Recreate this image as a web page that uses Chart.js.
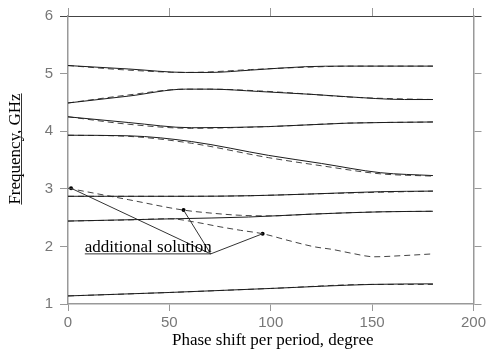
<!DOCTYPE html>
<html>
<head>
<meta charset="utf-8">
<script src="https://cdn.jsdelivr.net/npm/chart.js@4.4.1/dist/chart.umd.min.js"></script>
<style>
html, body { margin: 0; padding: 0; background: #fff; }
#wrap { width: 489px; height: 354px; position: relative; }
</style>
</head>
<body>
<div id="wrap"><canvas id="chart"></canvas></div>
<script>
// ================= DATA =================
const xTitle = "Phase shift per period, degree";
const yTitle = "Frequency, GHz";
const noteText = "additional solution";

// band 1 (~5.1 GHz)
const b1SolidDeg = [0, 30, 58, 70, 90, 117, 137, 180];
const b1SolidF   = [5.14, 5.08, 5.02, 5.02, 5.06, 5.12, 5.13, 5.13];
const b1DashDeg  = [0, 30, 58, 70, 90, 117, 140, 180];
const b1DashF    = [5.14, 5.06, 5.02, 5.03, 5.07, 5.11, 5.13, 5.13];

// band 2 (~4.5 GHz)
const b2SolidDeg = [0, 30, 58, 70, 94, 120, 137, 166, 180];
const b2SolidF   = [4.49, 4.61, 4.73, 4.73, 4.69, 4.64, 4.60, 4.55, 4.55];
const b2DashDeg  = [0, 30, 58, 70, 94, 120, 140, 166, 180];
const b2DashF    = [4.49, 4.63, 4.73, 4.73, 4.70, 4.64, 4.59, 4.56, 4.55];

// band 3 (~4.2 GHz)
const b3Deg    = [0, 30, 61, 99, 138, 180];
const b3SolidF = [4.25, 4.15, 4.06, 4.08, 4.14, 4.16];
const b3DashF  = [4.25, 4.12, 4.05, 4.08, 4.14, 4.16];

// band 4 (~3.9 GHz)
const b4Deg    = [0, 30, 61, 99, 125, 154, 180];
const b4SolidF = [3.93, 3.92, 3.82, 3.58, 3.44, 3.28, 3.23];
const b4DashF  = [3.93, 3.91, 3.79, 3.54, 3.40, 3.26, 3.22];

// band 5 (~2.9 GHz)
const b5Deg    = [0, 60, 90, 120, 154, 180];
const b5SolidF = [2.87, 2.87, 2.88, 2.91, 2.95, 2.96];
const b5DashF  = [2.87, 2.87, 2.88, 2.91, 2.94, 2.96];

// band 6 (~2.5 GHz) solid
const b6Deg    = [0, 53, 89, 120, 154, 180];
const b6SolidF = [2.44, 2.48, 2.51, 2.56, 2.60, 2.61];

// dashed branches around the additional solution
const addADeg = [0, 30, 57, 70, 85, 100, 120, 154, 180];
const addAF   = [3.01, 2.81, 2.63, 2.58, 2.54, 2.53, 2.56, 2.60, 2.61];
const addBDeg = [0, 30, 50, 63, 75, 85, 96, 109, 122, 130, 140, 151, 165, 180];
const addBF   = [2.44, 2.46, 2.48, 2.42, 2.34, 2.28, 2.22, 2.10, 1.99, 1.95, 1.88, 1.82, 1.84, 1.87];

// band 8 (~1.2 GHz)
const b8Deg    = [0, 50, 100, 150, 180];
const b8SolidF = [1.14, 1.20, 1.27, 1.34, 1.35];
const b8DashF  = [1.14, 1.20, 1.27, 1.34, 1.34];

// annotation: marked points, leader anchor, underline start
const noteDotDeg = [1.5, 57, 96];
const noteDotF   = [3.01, 2.63, 2.22];
const noteAnchor = [70.4, 1.87];
const noteStartDeg = 8.3;

// ================= HELPERS =================
function pts(xs, ys) {
    return xs.map((x, i) => ({ x: x, y: ys[i] }));
}

function solid(xs, ys) {
    return {
        data: pts(xs, ys),
        borderColor: "#1c1c1c",
        borderWidth: 1,
        pointRadius: 0,
        cubicInterpolationMode: "monotone"
    };
}

function dashed(xs, ys) {
    return {
        data: pts(xs, ys),
        borderColor: "#444",
        borderWidth: 1,
        borderDash: [6, 4],
        pointRadius: 0,
        cubicInterpolationMode: "monotone"
    };
}

// leader lines from the anchor to each marked point
const leaders = noteDotDeg.map((d, i) => ({
    data: [{ x: noteAnchor[0], y: noteAnchor[1] }, { x: d, y: noteDotF[i] }],
    borderColor: "#333",
    borderWidth: 1,
    pointRadius: 0,
    tension: 0
}));

const datasets = [
    solid(b1SolidDeg, b1SolidF), dashed(b1DashDeg, b1DashF),
    solid(b2SolidDeg, b2SolidF), dashed(b2DashDeg, b2DashF),
    solid(b3Deg, b3SolidF), dashed(b3Deg, b3DashF),
    solid(b4Deg, b4SolidF), dashed(b4Deg, b4DashF),
    solid(b5Deg, b5SolidF), dashed(b5Deg, b5DashF),
    solid(b6Deg, b6SolidF),
    dashed(addADeg, addAF), dashed(addBDeg, addBF),
    solid(b8Deg, b8SolidF), dashed(b8Deg, b8DashF),
    ...leaders,
    {
        // underline of the note
        data: [{ x: noteStartDeg, y: noteAnchor[1] }, { x: noteAnchor[0], y: noteAnchor[1] }],
        borderColor: "#333",
        borderWidth: 1,
        pointRadius: 0
    },
    {
        data: pts(noteDotDeg, noteDotF),
        showLine: false,
        pointRadius: 2,
        pointBackgroundColor: "#000",
        pointBorderWidth: 0
    }
];

// ================= TEXT PLUGIN =================
const textPlugin = {
    id: "textPlugin",
    afterDraw(chart) {
        const ctx = chart.ctx;
        const xs = chart.scales.x;
        const ys = chart.scales.y;
        ctx.save();
        ctx.fillStyle = "#000";
        ctx.strokeStyle = "#333";
        ctx.lineWidth = 1;
        ctx.font = '17px "Liberation Serif"';

        // x title
        ctx.textAlign = "center";
        ctx.textBaseline = "alphabetic";
        ctx.fillText(xTitle, (xs.left + xs.right) / 2 + 2, 345);

        // note text, sitting on its underline
        ctx.textAlign = "left";
        ctx.fillText(noteText, xs.getPixelForValue(noteStartDeg), ys.getPixelForValue(noteAnchor[1]) - 2);

        // y title, rotated and underlined
        ctx.translate(20, 149);
        ctx.rotate(-Math.PI / 2);
        ctx.textAlign = "center";
        ctx.fillText(yTitle, 0, 0);
        const w = ctx.measureText(yTitle).width;
        ctx.beginPath();
        ctx.moveTo(-w / 2, 1.5);
        ctx.lineTo(w / 2, 1.5);
        ctx.stroke();
        ctx.restore();
    }
};

// ================= CHART =================
const tickFont = { family: "Liberation Sans", size: 15 };
const axisGray = "#999";
// the tick marks at 6 GHz continue the dark top frame line
const yTickColor = c => (c.tick && c.tick.value === 6 ? "#444" : axisGray);

new Chart(document.getElementById("chart"), {
    type: "line",
    data: { datasets: datasets },
    plugins: [textPlugin],
    options: {
        responsive: true,
        maintainAspectRatio: false,
        animation: false,
        layout: { padding: 0 },
        plugins: { legend: { display: false }, tooltip: { enabled: false } },
        scales: {
            x: {
                type: "linear", position: "bottom", min: 0, max: 200,
                ticks: { stepSize: 50, font: tickFont, color: "#777", padding: 3 },
                grid: { drawOnChartArea: false, tickLength: 7, color: axisGray },
                border: { color: axisGray, width: 1.5 },
                afterFit: s => { s.height = 50; }
            },
            x2: {
                type: "linear", position: "top", min: 0, max: 200,
                ticks: { stepSize: 50, display: false },
                grid: { drawOnChartArea: false, tickLength: 8, color: axisGray },
                border: { color: "#444", width: 1 },
                afterFit: s => { s.height = 12; }
            },
            y: {
                type: "linear", position: "left", min: 1, max: 6,
                ticks: { stepSize: 1, font: tickFont, color: "#777", padding: 7 },
                grid: { drawOnChartArea: false, tickLength: 8, color: yTickColor },
                border: { color: axisGray, width: 1.5 },
                afterFit: s => { s.width = 68; }
            },
            y2: {
                type: "linear", position: "right", min: 1, max: 6,
                ticks: { stepSize: 1, display: false },
                grid: { drawOnChartArea: false, tickLength: 8, color: yTickColor },
                border: { color: axisGray, width: 1.5 },
                afterFit: s => { s.width = 14; }
            }
        }
    }
});
</script>
</body>
</html>
